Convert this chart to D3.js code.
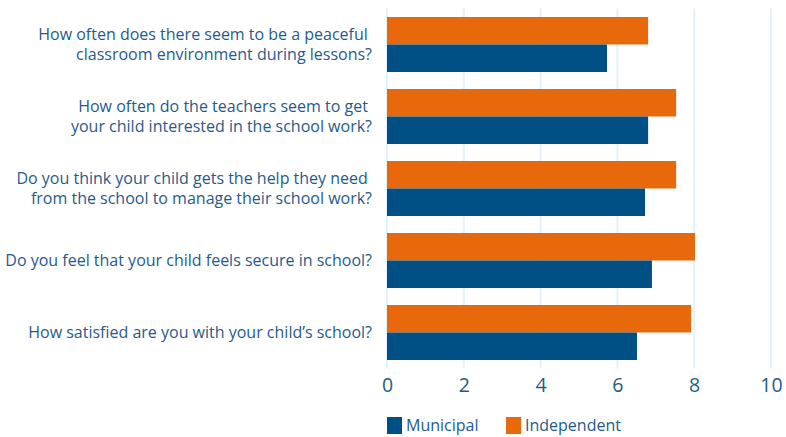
<!DOCTYPE html>
<html>
<head>
<meta charset="utf-8">
<script src="https://cdn.jsdelivr.net/npm/d3@7"></script>
<style>
  html, body { margin: 0; padding: 0; background: #fff; }
  svg { display: block; font-family: "Open Sans", sans-serif; }
  .qlabel { white-space: pre; }
</style>
</head>
<body>
<svg id="chart" width="786" height="437"></svg>
<script>
// Survey questions (each label split into its display lines)
const questions = [
  ["How often does there seem to be a peaceful ", "classroom environment during lessons?"],
  ["How often do the teachers seem to get ", "your child interested in the school work?"],
  ["Do you think your child gets the help they need ", "from the school to manage their school work?"],
  ["Do you feel that your child feels secure in school?"],
  ["How satisfied are you with your child\u2019s school?"]
];
const seriesNames = ["Independent", "Municipal"];
const independent = [6.80, 7.53, 7.53, 8.02, 7.92];
const municipal   = [5.73, 6.80, 6.72, 6.90, 6.51];
const xTicks = [0, 2, 4, 6, 8, 10];
const legendOrder = ["Municipal", "Independent"];

const colors = { Municipal: "#005085", Independent: "#e8690b" };
const textColor = "#1f5b8c";

const svg = d3.select("#chart");
const margin = { top: 8.5, left: 387 };
const innerW = 771 - margin.left;
const innerH = 5 * 72;

const g = svg.append("g").attr("transform", `translate(${margin.left},${margin.top})`);

const x = d3.scaleLinear().domain([0, 10]).range([0, innerW]);
const y = d3.scaleBand().domain(d3.range(questions.length)).range([0, innerH]).paddingInner(0.236).paddingOuter(0.118);
const ySub = d3.scaleBand().domain(seriesNames).range([0, y.bandwidth()]);

// Vertical gridlines
g.append("g")
  .selectAll("line")
  .data(xTicks)
  .join("line")
  .attr("x1", d => x(d)).attr("x2", d => x(d))
  .attr("y1", 0).attr("y2", innerH)
  .attr("stroke", "#e4f0fa")
  .attr("stroke-width", 2);

// Bars
const rows = questions.map((q, i) => ({ i, values: { Independent: independent[i], Municipal: municipal[i] } }));
const groups = g.selectAll("g.row").data(rows).join("g")
  .attr("class", "row")
  .attr("transform", d => `translate(0,${y(d.i)})`);

groups.selectAll("rect")
  .data(d => seriesNames.map(s => ({ s, v: d.values[s] })))
  .join("rect")
  .attr("x", x(0))
  .attr("y", d => ySub(d.s))
  .attr("width", d => x(d.v) - x(0))
  .attr("height", ySub.bandwidth())
  .attr("fill", d => colors[d.s]);

// Category labels
const lineH = 19.5;
g.append("g").selectAll("text")
  .data(questions)
  .join("text")
  .attr("class", "qlabel")
  .attr("text-anchor", "end")
  .attr("fill", textColor)
  .attr("font-size", 16)
  .each(function (lines, i) {
    const cy = y(i) + y.bandwidth() / 2;
    const t = d3.select(this);
    lines.forEach((line, k) => {
      t.append("tspan")
        .attr("x", -15)
        .attr("y", cy + (k - (lines.length - 1) / 2) * lineH)
        .attr("dy", "0.35em")
        .text(line);
    });
  });

// X axis
const xAxis = g.append("g")
  .attr("transform", `translate(0,${innerH})`)
  .call(d3.axisBottom(x).tickValues(xTicks).tickSize(0).tickPadding(10));
xAxis.select(".domain").remove();
xAxis.selectAll("text")
  .attr("fill", textColor)
  .attr("font-size", 19.5)
  .attr("font-family", "Open Sans, sans-serif");

// Legend
const legend = svg.append("g").attr("transform", "translate(387,417)");
const legendX = [0, 119];
legendOrder.forEach((name, i) => {
  const item = legend.append("g").attr("transform", `translate(${legendX[i]},0)`);
  item.append("rect").attr("width", 15).attr("height", 17).attr("fill", colors[name]);
  item.append("text")
    .attr("x", 19).attr("y", 8.5).attr("dy", "0.35em")
    .attr("fill", textColor)
    .attr("font-size", 16)
    .text(name);
});
</script>
</body>
</html>
